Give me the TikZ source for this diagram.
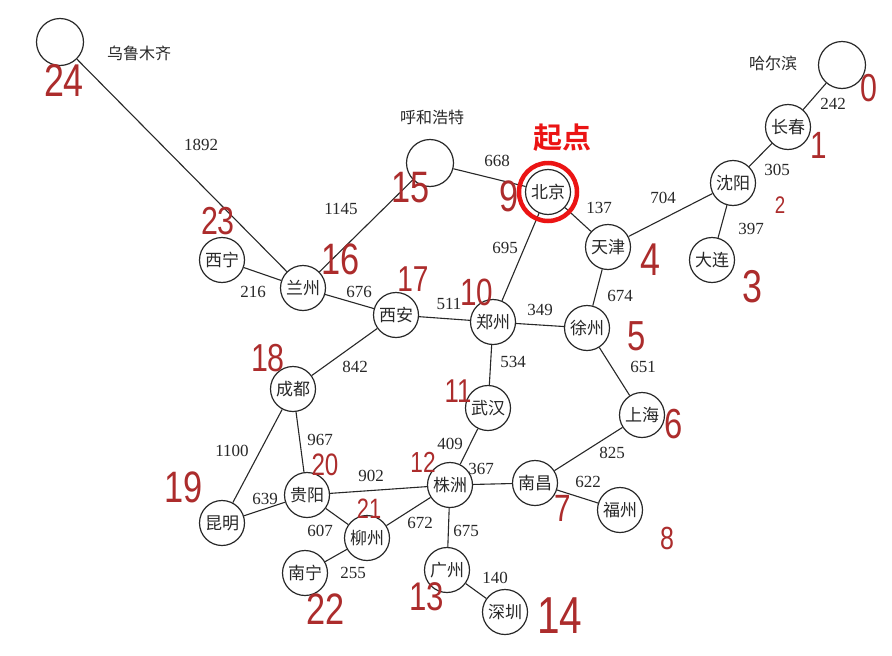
\documentclass[tikz,border=0pt]{standalone}
\usepackage{fontspec}
\setmainfont{Liberation Serif}
\newfontfamily\cjk{Noto Sans CJK SC}
\newfontfamily\cjkb{Noto Sans CJK SC Bold}
\newfontfamily\hand{Liberation Sans}
\definecolor{pen}{RGB}{172,44,44}
\definecolor{startred}{RGB}{235,20,20}
\definecolor{ink}{RGB}{40,40,40}
\newcommand{\hw}[2]{{\hand\fontsize{#1}{#1}\selectfont\scalebox{0.78}[1]{#2}}}
\begin{document}
\begin{tikzpicture}[x=1pt,y=-1pt,
  city/.style={circle,draw=ink,line width=1.2pt,minimum size=45pt,inner sep=0pt,
    font=\cjk\fontsize{17}{17}\selectfont,text=ink},
  bigcity/.style={city,minimum size=47pt},
  cname/.style={font=\cjk\fontsize{16}{16}\selectfont,text=ink},
  dist/.style={font=\fontsize{17}{17}\selectfont,text=ink,inner sep=1pt},
  road/.style={draw=ink,line width=1.1pt},
  num/.style={text=pen,inner sep=0pt}]
\useasboundingbox (0,0) rectangle (892,656);
\fill[white] (0,0) rectangle (892,656);
% cities
\node[bigcity] (wlmq) at (60,42) {};
\node[bigcity] (hhht) at (430,163) {};
\node[bigcity] (heb) at (842,65) {};
\node[city] (cc) at (788,127) {长春};
\node[city] (sy) at (733,183) {沈阳};
\node[city] (dl) at (712,260) {大连};
\node[city] (tj) at (608,247) {天津};
\node[city] (bj) at (548,192) {北京};
\node[city] (zz) at (493,322) {郑州};
\node[city] (xz) at (587,328) {徐州};
\node[city] (sh) at (642,415) {上海};
\node[city] (wh) at (488,408) {武汉};
\node[city] (nc) at (535,483) {南昌};
\node[city] (fz) at (620,510) {福州};
\node[city] (zhu) at (450,485) {株洲};
\node[city] (gz) at (447,570) {广州};
\node[city] (szn) at (505,612) {深圳};
\node[city] (xn) at (222,260) {西宁};
\node[city] (lz) at (303,288) {兰州};
\node[city] (xa) at (396,315) {西安};
\node[city] (cd) at (293,389) {成都};
\node[city] (gy) at (307,495) {贵阳};
\node[city] (km) at (222,523) {昆明};
\node[city] (liuz) at (367,538) {柳州};
\node[city] (nn) at (305,573) {南宁};
% outside names
\node[cname] (lwlmq) at (139,53) {乌鲁木齐};
\node[cname] (lhhht) at (432,117) {呼和浩特};
\node[cname] (lheb) at (773,63) {哈尔滨};
% roads
\draw[road] (wlmq) -- (lz);
\draw[road] (xn) -- (lz);
\draw[road] (lz) -- (hhht);
\draw[road] (lz) -- (xa);
\draw[road] (hhht) -- (bj);
\draw[road] (bj) -- (tj);
\draw[road] (bj) -- (zz);
\draw[road] (tj) -- (sy);
\draw[road] (sy) -- (cc);
\draw[road] (cc) -- (heb);
\draw[road] (sy) -- (dl);
\draw[road] (tj) -- (xz);
\draw[road] (xa) -- (zz);
\draw[road] (zz) -- (xz);
\draw[road] (zz) -- (wh);
\draw[road] (xz) -- (sh);
\draw[road] (xa) -- (cd);
\draw[road] (wh) -- (zhu);
\draw[road] (sh) -- (nc);
\draw[road] (zhu) -- (nc);
\draw[road] (nc) -- (fz);
\draw[road] (cd) -- (km);
\draw[road] (cd) -- (gy);
\draw[road] (gy) -- (zhu);
\draw[road] (gy) -- (km);
\draw[road] (gy) -- (liuz);
\draw[road] (liuz) -- (zhu);
\draw[road] (zhu) -- (gz);
\draw[road] (liuz) -- (nn);
\draw[road] (gz) -- (szn);
% distances
\node[dist] (d1892) at (201,145) {1892};
\node[dist] (d1145) at (341,209) {1145};
\node[dist] (d216) at (253,292) {216};
\node[dist] (d676) at (359,292) {676};
\node[dist] (d668) at (497,161) {668};
\node[dist] (d137) at (599,208) {137};
\node[dist] (d704) at (663,198) {704};
\node[dist] (d305) at (777,170) {305};
\node[dist] (d242) at (833,104) {242};
\node[dist] (d397) at (751,229) {397};
\node[dist] (d695) at (505,248) {695};
\node[dist] (d511) at (449,304) {511};
\node[dist] (d349) at (540,310) {349};
\node[dist] (d674) at (620,296) {674};
\node[dist] (d534) at (513,362) {534};
\node[dist] (d651) at (643,367) {651};
\node[dist] (d842) at (355,367) {842};
\node[dist] (d409) at (450,444) {409};
\node[dist] (d825) at (612,453) {825};
\node[dist] (d367) at (481,469) {367};
\node[dist] (d622) at (588,482) {622};
\node[dist] (d1100) at (232,451) {1100};
\node[dist] (d967) at (320,440) {967};
\node[dist] (d902) at (371,476) {902};
\node[dist] (d639) at (265,499) {639};
\node[dist] (d607) at (320,531) {607};
\node[dist] (d672) at (420,523) {672};
\node[dist] (d675) at (466,531) {675};
\node[dist] (d255) at (353,573) {255};
\node[dist] (d140) at (495,578) {140};
% start marker
\draw[draw=startred,line width=4.5pt] (bj.center) circle[radius=29];
\node[font=\cjkb\fontsize{29}{29}\selectfont,text=startred] (qd) at (562,138) {起点};
% handwritten numbers
\node[num] (n0) at (869,88) {\hw{39}{0}};
\node[num] (n1) at (819,145) {\hw{38}{1}};
\node[num] (n2) at (780,205) {\hw{24}{2}};
\node[num] (n3) at (752,287) {\hw{46}{3}};
\node[num] (n4) at (650,260) {\hw{46}{4}};
\node[num] (n5) at (637,336) {\hw{42}{5}};
\node[num] (n6) at (674,424) {\hw{42}{6}};
\node[num] (n7) at (563,508) {\hw{38}{7}};
\node[num] (n8) at (667,538) {\hw{32}{8}};
\node[num] (n9) at (509,196) {\hw{44}{9}};
\node[num] (n10) at (477,292) {\hw{38}{10}};
\node[num] (n11) at (458,391) {\hw{33}{11}};
\node[num] (n12) at (423,462) {\hw{29}{12}};
\node[num] (n13) at (427,597) {\hw{40}{13}};
\node[num] (n14) at (560,616) {\hw{52}{14}};
\node[num] (n15) at (411,188) {\hw{44}{15}};
\node[num] (n16) at (341,259) {\hw{44}{16}};
\node[num] (n17) at (413,279) {\hw{36}{17}};
\node[num] (n18) at (268,358) {\hw{39}{18}};
\node[num] (n19) at (184,487) {\hw{44}{19}};
\node[num] (n20) at (325,465) {\hw{31}{20}};
\node[num] (n21) at (369,509) {\hw{28}{21}};
\node[num] (n22) at (326,609) {\hw{44}{22}};
\node[num] (n23) at (218,221) {\hw{39}{23}};
\node[num] (n24) at (64,80) {\hw{46}{24}};
\end{tikzpicture}
\end{document}
